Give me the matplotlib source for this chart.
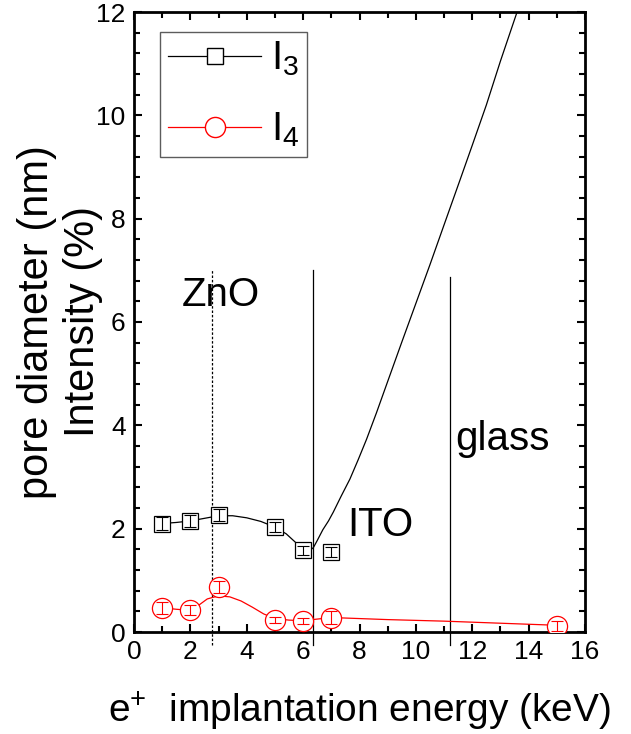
import matplotlib
matplotlib.use("Agg")
import matplotlib.pyplot as plt
from matplotlib.ticker import MultipleLocator
from matplotlib.lines import Line2D

plt.rcParams['font.family'] = ['Liberation Sans', 'DejaVu Sans']
plt.rcParams['mathtext.fontset'] = 'custom'
plt.rcParams['mathtext.rm'] = 'Liberation Sans'
plt.rcParams['mathtext.it'] = 'Liberation Sans'
plt.rcParams['mathtext.default'] = 'regular'

# measured points
energy = [1, 2, 3, 5, 6, 7]
i3 = [2.10, 2.15, 2.27, 2.03, 1.58, 1.55]
i3_err = [0.12, 0.12, 0.12, 0.10, 0.08, 0.10]
energy4 = [1, 2, 3, 5, 6, 7, 15]
i4 = [0.47, 0.42, 0.87, 0.24, 0.21, 0.28, 0.11]
i4_err = [0.12, 0.10, 0.12, 0.06, 0.06, 0.12, 0.10]

# fitted curves
fit3_x = [1.0, 1.5, 2.0, 2.5, 3.0, 3.5, 4.0, 4.5, 5.0, 5.4, 5.8, 6.0, 6.2, 6.36, 6.5, 6.7,
          6.9, 7.07, 7.35, 7.66, 7.95, 8.25, 8.6, 9.02, 9.5, 10.0, 10.5, 11.0, 11.56,
          12.0, 12.5, 13.0, 13.59, 14.0]
fit3_y = [2.10, 2.12, 2.15, 2.20, 2.25, 2.25, 2.21, 2.14, 2.03, 1.90, 1.70, 1.60, 1.57, 1.63, 1.77, 1.98,
          2.15, 2.32, 2.63, 2.96, 3.33, 3.73, 4.24, 4.88, 5.61, 6.36, 7.11, 7.88, 8.74,
          9.42, 10.2, 11.05, 12.0, 12.6]
fit4_x = [1.0, 1.5, 2.0, 2.3, 2.6, 3.0, 3.4, 3.8, 4.2, 4.6, 5.0, 5.5, 6.0, 6.5, 7.0,
          8.0, 9.0, 11.0, 13.0, 15.0]
fit4_y = [0.47, 0.44, 0.42, 0.52, 0.64, 0.70, 0.68, 0.60, 0.48, 0.35, 0.26, 0.23, 0.22, 0.25, 0.28,
          0.26, 0.24, 0.21, 0.17, 0.13]

# layer boundaries
boundaries = [2.77, 6.35, 11.2]
boundary_tops = [7.0, 7.0, 6.88]
boundary_styles = [(0, (2, 1.5)), '-', '-']
layer_labels = ['ZnO', 'ITO', 'glass']
label_x = [1.70, 7.55, 11.40]
label_y = [6.30, 1.85, 3.52]

fig = plt.figure(figsize=(6.31, 7.34), dpi=100)
ax = fig.add_axes([134/631, 1-632/734, 451/631, 620/734])

ax.plot(fit3_x, fit3_y, color='black', lw=0.9, zorder=2)
ax.plot(fit4_x, fit4_y, color='red', lw=0.9, zorder=2)

ax.plot(energy, i3, ls='none', marker='s', ms=11.5, mfc='white', mec='black', mew=0.9, zorder=3)
ax.errorbar(energy, i3, yerr=i3_err, fmt='none', ecolor='black', elinewidth=0.8,
            capsize=4.5, capthick=0.8, zorder=4)
ax.plot(energy4, i4, ls='none', marker='o', ms=14.5, mfc='white', mec='red', mew=0.9, zorder=3)
ax.errorbar(energy4, i4, yerr=i4_err, fmt='none', ecolor='red', elinewidth=0.8,
            capsize=4.5, capthick=0.8, zorder=4)

for bx, bt, bs in zip(boundaries, boundary_tops, boundary_styles):
    ax.plot([bx, bx], [-0.25, bt], color='black', lw=0.9, ls=bs, clip_on=False, zorder=1)

for t, lx, ly in zip(layer_labels, label_x, label_y):
    ax.text(lx, ly, t, fontsize=29, ha='left', va='baseline')

ax.set_xlim(0, 16)
ax.set_ylim(0, 12)
ax.xaxis.set_major_locator(MultipleLocator(2))
ax.xaxis.set_minor_locator(MultipleLocator(1))
ax.yaxis.set_major_locator(MultipleLocator(2))
ax.yaxis.set_minor_locator(MultipleLocator(0.4))
ax.tick_params(which='both', direction='in', top=True, right=True, width=1.5, labelsize=19)
ax.tick_params(which='major', length=6, pad=6)
ax.tick_params(which='minor', length=4)
for s in ax.spines.values():
    s.set_linewidth(2)

ax.set_xlabel('e$^{+}$  implantation energy (keV)', fontsize=28, labelpad=18)
ax.set_ylabel('pore diameter (nm)\nIntensity (%)', fontsize=30, labelpad=-5, linespacing=1.2)

handles = [
    Line2D([], [], color='black', lw=0.9, marker='s', ms=11.5, mfc='white', mec='black'),
    Line2D([], [], color='red', lw=0.9, marker='o', ms=14.5, mfc='white', mec='red'),
]
leg = ax.legend(handles, ['I$_3$', 'I$_4$'], loc='upper left', bbox_to_anchor=(0.058, 0.968),
                fontsize=29, frameon=True, fancybox=False, edgecolor='#333333',
                handlelength=2.3, borderpad=0.2, labelspacing=0.8, handletextpad=0.25,
                borderaxespad=0)
leg.get_frame().set_linewidth(1.0)

fig.savefig('out.png', dpi=100)
